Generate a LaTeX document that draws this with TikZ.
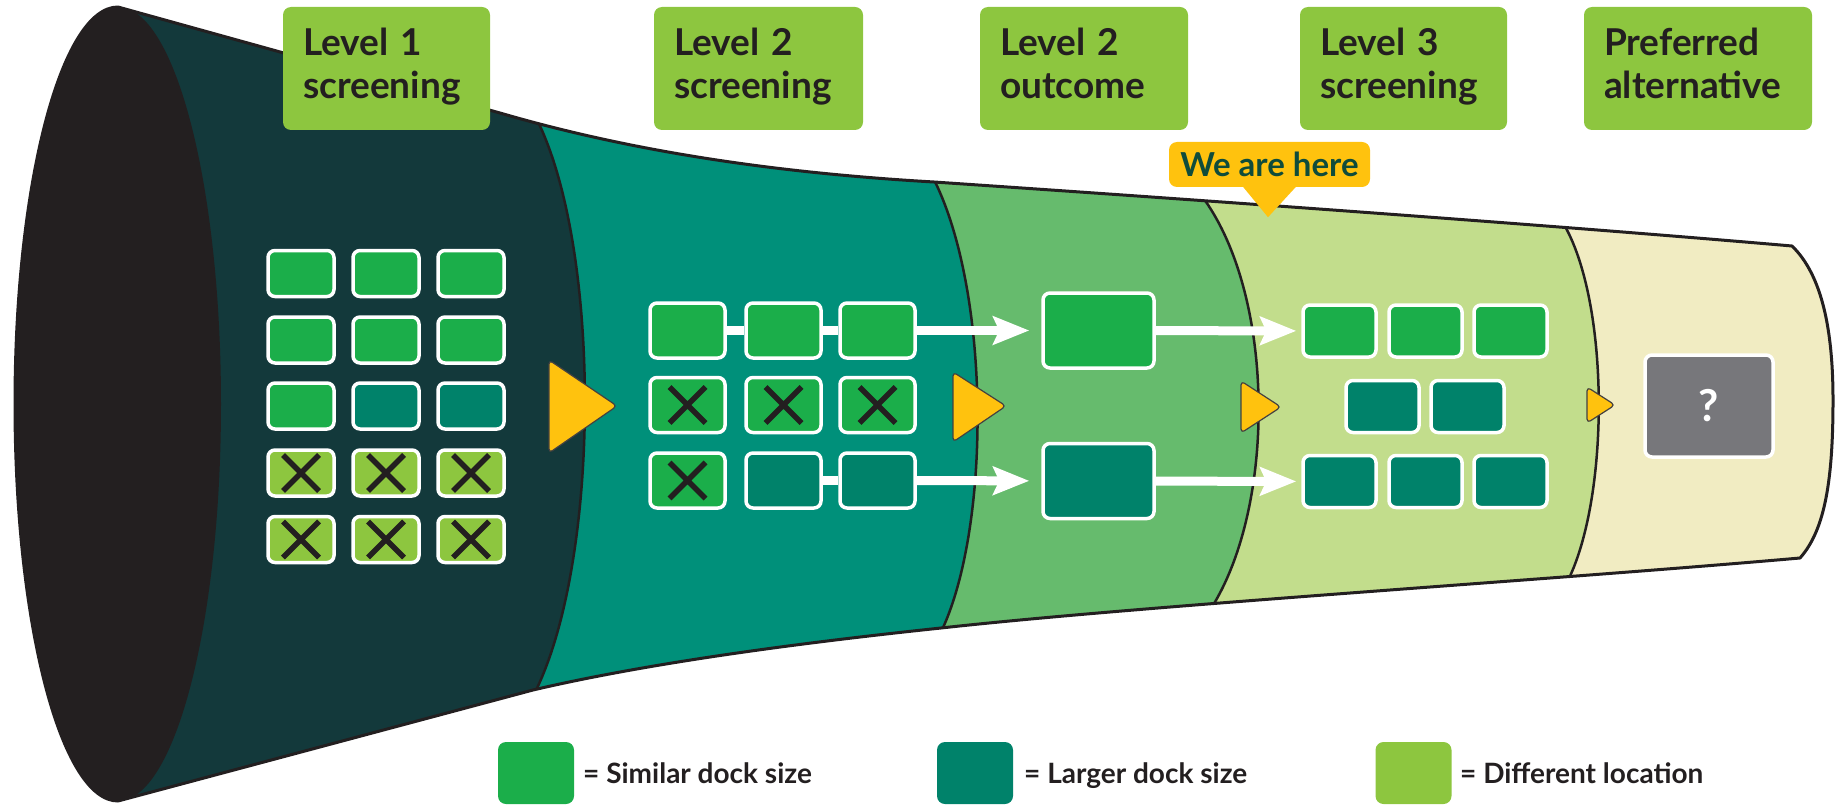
\documentclass[tikz,border=0pt]{standalone}
\usepackage{fontspec}
\setmainfont{Lato}
\usetikzlibrary{arrows.meta}
\hyphenpenalty=10000
\exhyphenpenalty=10000
\definecolor{mouth}{HTML}{231F20}
\definecolor{secA}{HTML}{13393B}
\definecolor{secB}{HTML}{00907A}
\definecolor{secC}{HTML}{66BB6D}
\definecolor{secD}{HTML}{C2DD8C}
\definecolor{secE}{HTML}{F1ECC2}
\definecolor{bgreen}{HTML}{1BAE4A}
\definecolor{dteal}{HTML}{00826A}
\definecolor{lgreen}{HTML}{8DC63F}
\definecolor{qgray}{HTML}{77777B}
\definecolor{ylw}{HTML}{FFC20E}
\definecolor{ink}{HTML}{231F20}
\definecolor{hereink}{HTML}{0F4C3B}
\def\funnelpath{(118,801) .. controls (61,801) and (15,623) .. (15,404) .. controls (15,185) and (61,7) .. (118,7)
 -- (500,113) .. controls (620,148) and (760,172) .. (934,182) .. controls (1200,200) and (1550,225) .. (1792,246)
 .. controls (1822,275) and (1833,330) .. (1833,400) .. controls (1833,480) and (1825,530) .. (1800,558)
 .. controls (1550,580) and (1150,605) .. (941,628) .. controls (780,645) and (640,665) .. (533,690) -- cycle}
\def\bone{(533,112) .. controls (603,240) and (602,570) .. (531,700)}
\def\btwo{(930,172) .. controls (992,285) and (992,535) .. (938,638)}
\def\bthree{(1201,195) .. controls (1277,295) and (1277,515) .. (1206,616)}
\def\bfour{(1560,218) .. controls (1611,295) and (1611,505) .. (1564,588)}
\begin{document}
\begin{tikzpicture}[x=1pt,y=-1pt,
  dock/.style={draw=white, line width=3.5pt, rounded corners=7pt, inner sep=0pt},
  s1/.style={dock, minimum width=66pt, minimum height=46pt},
  s2/.style={dock, minimum width=75pt, minimum height=55pt},
  s3/.style={dock, minimum width=111pt, minimum height=75pt},
  s4/.style={dock, minimum width=73pt, minimum height=52pt},
  simg/.style={fill=bgreen},
  larg/.style={fill=dteal},
  diff/.style={fill=lgreen},
  xmark/.style={path picture={\draw[ink, line width=5.5pt]
     ([xshift=-18pt,yshift=-18pt]path picture bounding box.center) -- ([xshift=18pt,yshift=18pt]path picture bounding box.center)
     ([xshift=-18pt,yshift=18pt]path picture bounding box.center) -- ([xshift=18pt,yshift=-18pt]path picture bounding box.center);}},
  wline/.style={draw=white, line width=9pt},
  warrow/.style={draw=white, line width=9pt, -{Stealth[length=36pt, width=28pt, inset=6pt]}},
  lbl/.style={fill=lgreen, rounded corners=8pt, minimum height=123pt, inner xsep=20pt, inner ysep=0pt,
     align=left, text=ink, font=\fontsize{37}{43}\selectfont\bfseries},
  legbox/.style={fill=#1, rounded corners=8pt, minimum width=76pt, minimum height=62pt, inner sep=0pt},
  legtext/.style={anchor=base west, inner sep=0pt, text=ink, font=\fontsize{28}{34}\selectfont\bfseries},
  pointer/.style={fill=ylw, draw=ink!85, line width=1.2pt, rounded corners=4pt, line join=round}
]
\useasboundingbox (0,0) rectangle (1839,805);

% funnel body
\begin{scope}
  \clip \funnelpath;
  \fill[secA] (0,0) rectangle (1839,805);
  \fill[secB] \bone -- (531,900) -- (1900,900) -- (1900,-100) -- (533,-100) -- cycle;
  \fill[secC] \btwo -- (938,900) -- (1900,900) -- (1900,-100) -- (930,-100) -- cycle;
  \fill[secD] \bthree -- (1206,900) -- (1900,900) -- (1900,-100) -- (1201,-100) -- cycle;
  \fill[secE] \bfour -- (1564,900) -- (1900,900) -- (1900,-100) -- (1560,-100) -- cycle;
  \fill[mouth] (118,404) ellipse [x radius=103pt, y radius=397pt];
  \draw[ink, line width=2.5pt] \bone;
  \draw[ink, line width=2.5pt] \btwo;
  \draw[ink, line width=2.5pt] \bthree;
  \draw[ink, line width=2.5pt] \bfour;
\end{scope}
\draw[ink, line width=3pt, line join=round] \funnelpath;

% yellow step triangles
\filldraw[pointer] (549,360) -- (617,406) -- (549,453) -- cycle;
\filldraw[pointer] (953,372) -- (1006,406) -- (953,442) -- cycle;
\filldraw[pointer] (1241,381) -- (1281,407) -- (1241,433) -- cycle;
\filldraw[pointer] (1587,387) -- (1615,405) -- (1587,423) -- cycle;

% level 1 grid
\node[s1,simg] (a11) at (301,273.5) {};
\node[s1,simg] (a12) at (386,273.5) {};
\node[s1,simg] (a13) at (471,273.5) {};
\node[s1,simg] (a21) at (301,340) {};
\node[s1,simg] (a22) at (386,340) {};
\node[s1,simg] (a23) at (471,340) {};
\node[s1,simg] (a31) at (301,406) {};
\node[s1,larg] (a32) at (386,406) {};
\node[s1,larg] (a33) at (471,406) {};
\node[s1,diff,xmark] (a41) at (301,473) {};
\node[s1,diff,xmark] (a42) at (386,473) {};
\node[s1,diff,xmark] (a43) at (471,473) {};
\node[s1,diff,xmark] (a51) at (301,539.5) {};
\node[s1,diff,xmark] (a52) at (386,539.5) {};
\node[s1,diff,xmark] (a53) at (471,539.5) {};

% level 2 grid
\node[s2,simg] (b11) at (687.5,330.5) {};
\node[s2,simg] (b12) at (783.5,330.5) {};
\node[s2,simg] (b13) at (877.5,330.5) {};
\node[s2,simg,xmark] (b21) at (687.5,405) {};
\node[s2,simg,xmark] (b22) at (783.5,405) {};
\node[s2,simg,xmark] (b23) at (877.5,405) {};
\node[s2,simg,xmark] (b31) at (687.5,480.5) {};
\node[s2,larg] (b32) at (783.5,480.5) {};
\node[s2,larg] (b33) at (877.5,480.5) {};

% level 2 outcome
\node[s3,simg] (o1) at (1098.5,330.5) {};
\node[s3,larg] (o2) at (1098.5,481) {};

% level 3
\node[s4,simg] (c11) at (1339.5,331) {};
\node[s4,simg] (c12) at (1425.5,331) {};
\node[s4,simg] (c13) at (1510.5,331) {};
\node[s4,larg] (c21) at (1382.5,406.5) {};
\node[s4,larg] (c22) at (1467.5,406.5) {};
\node[s4,larg] (c31) at (1339.5,481.5) {};
\node[s4,larg] (c32) at (1425.5,481.5) {};
\node[s4,larg] (c33) at (1510.5,481.5) {};

% preferred alternative
\node[dock, fill=qgray, minimum width=128pt, minimum height=102pt, text=white,
      font=\fontsize{44}{50}\selectfont\bfseries] (q) at (1709,406) {?};

% connectors
\draw[wline] (b11) -- (b12);
\draw[wline] (b12) -- (b13);
\draw[wline] (b32) -- (b33);
\draw[warrow, shorten >=12pt] (b13) -- (o1);
\draw[warrow, shorten >=12pt] (b33) -- (o2);
\draw[warrow, shorten >=5pt] (o1) -- (c11);
\draw[warrow, shorten >=5pt] (o2) -- (c31);

% top labels
\node[lbl, text width=167pt] (lab1) at (386.5,68.5) {\strut Level 1\\\strut screening};
\node[lbl, text width=169pt] (lab2) at (758.5,68.5) {\strut Level 2\\\strut screening};
\node[lbl, text width=168pt] (lab3) at (1084,68.5) {\strut Level 2\\\strut outcome};
\node[lbl, text width=167pt] (lab4) at (1403.5,68.5) {\strut Level 3\\\strut screening};
\node[lbl, text width=188pt] (lab5) at (1698,68.5) {\strut Preferred\\\strut alternative};

% we are here
\node[fill=ylw, rounded corners=8pt, minimum width=201pt, minimum height=45pt, inner sep=0pt,
      text=hereink, font=\fontsize{33}{38}\selectfont\bfseries] (here) at (1269.5,164.5) {We are here};
\fill[ylw] ([xshift=-27pt,yshift=1pt]here.south) -- ([xshift=-1.5pt,yshift=-30pt]here.south) -- ([xshift=27pt,yshift=1pt]here.south) -- cycle;

% legend
\node[legbox=bgreen] (leg1) at (536,773) {};
\node[legbox=dteal] (leg2) at (975,773) {};
\node[legbox=lgreen] (leg3) at (1413.5,773) {};
\node[legtext] (legt1) at (583,783) {= Similar dock size};
\node[legtext] (legt2) at (1024,783) {= Larger dock size};
\node[legtext] (legt3) at (1460,783) {= Different location};
\end{tikzpicture}
\end{document}
